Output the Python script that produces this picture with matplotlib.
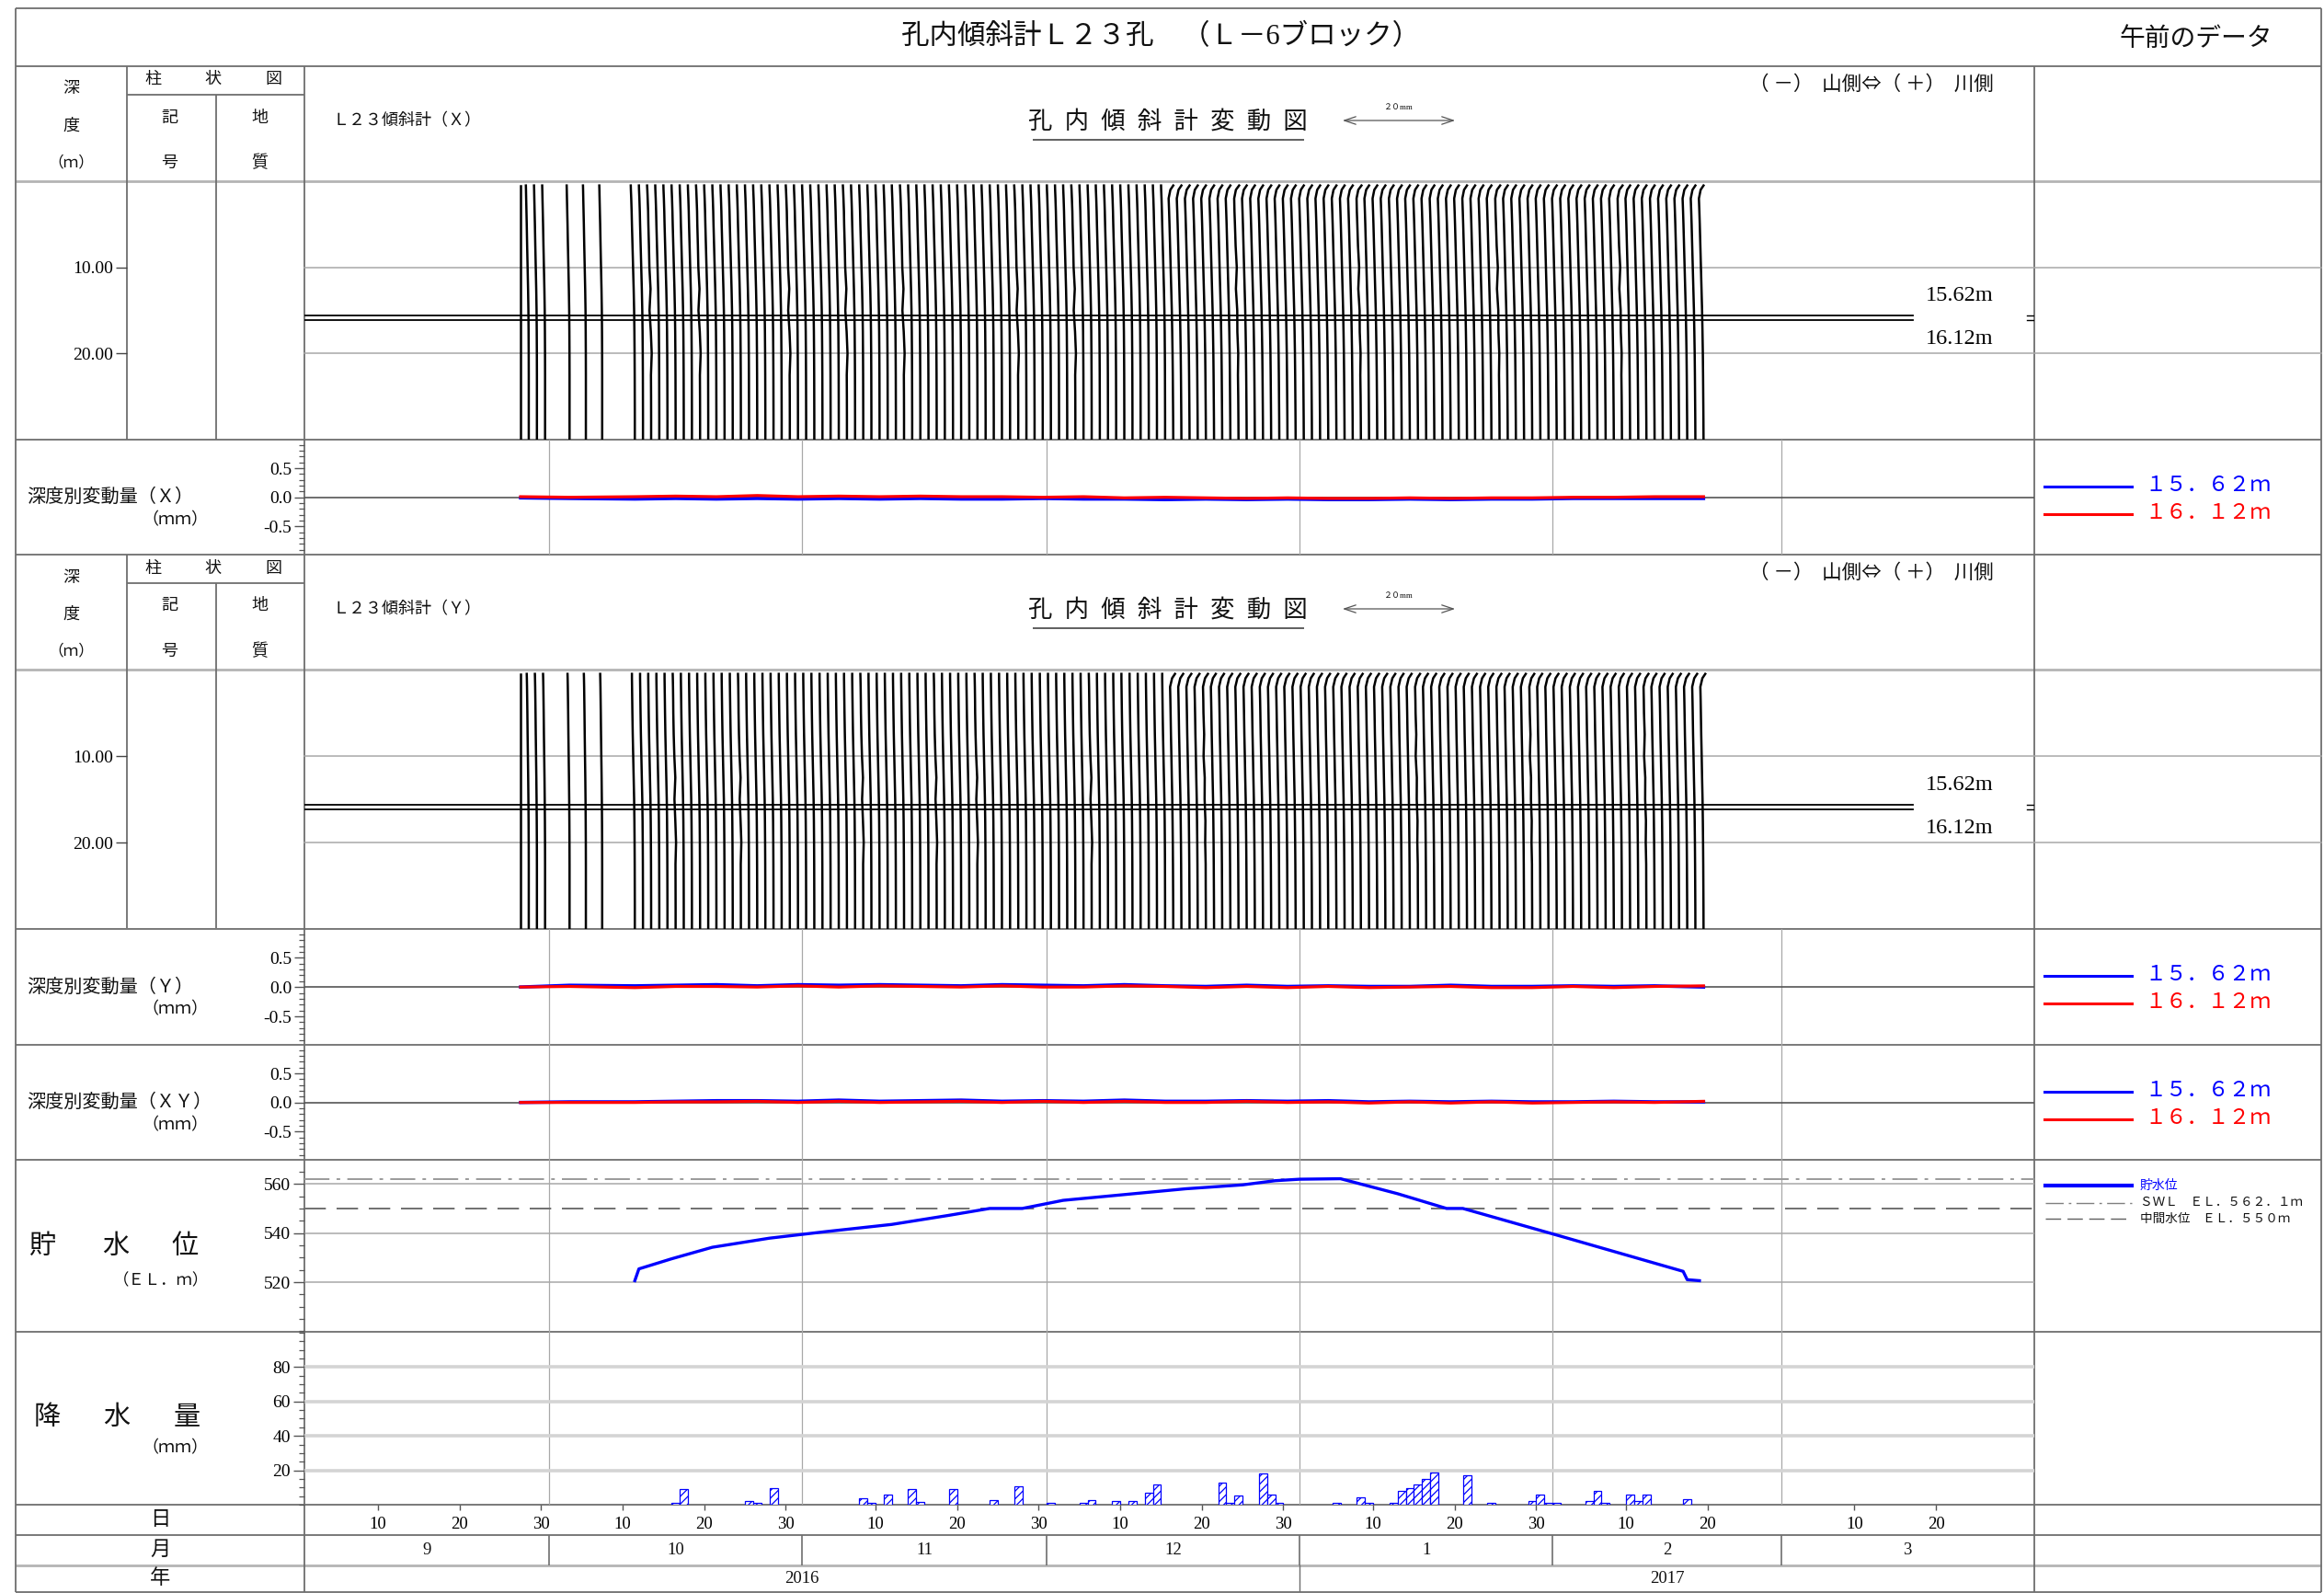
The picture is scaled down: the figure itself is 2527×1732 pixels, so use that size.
import numpy as np
import pandas as pd
import matplotlib
matplotlib.use("Agg")
import matplotlib.pyplot as plt
import matplotlib.dates as mdates
from matplotlib.ticker import MultipleLocator, FixedLocator, FixedFormatter, NullLocator

plt.rcParams['font.family'] = ['Liberation Serif', 'Noto Sans CJK JP']
plt.rcParams['hatch.color'] = 'blue'
plt.rcParams['hatch.linewidth'] = 0.9

# ---------------- data ----------------
time_start, time_end = '2016-09-01', '2017-04-01'
month_starts = ['2016-09-01', '2016-10-01', '2016-11-01', '2016-12-01',
                '2017-01-01', '2017-02-01', '2017-03-01', '2017-04-01']
month_labels = ['9', '10', '11', '12', '1', '2', '3']
year_bounds = ['2016-09-01', '2017-01-01', '2017-04-01']
year_labels = ['2016', '2017']
day_ticks = ['2016-09-10', '2016-09-20', '2016-09-30', '2016-10-10', '2016-10-20', '2016-10-30',
             '2016-11-10', '2016-11-20', '2016-11-30', '2016-12-10', '2016-12-20', '2016-12-30',
             '2017-01-10', '2017-01-20', '2017-01-30', '2017-02-10', '2017-02-20',
             '2017-03-10', '2017-03-20']
day_labels = ['10', '20', '30', '10', '20', '30', '10', '20', '30', '10', '20', '30',
              '10', '20', '30', '10', '20', '10', '20']

# inclinometer measurement dates
incl_dates_early = ['2016-09-27', '2016-09-28', '2016-09-29', '2016-09-30',
                    '2016-10-03', '2016-10-05', '2016-10-07']
incl_daily_from, incl_daily_to = '2016-10-11', '2017-02-19'

depth_pts = [0.5, 1.0, 2.0, 3.5, 5.0, 7.5, 10.0, 12.5, 15.0, 17.5, 20.0, 22.5, 25.0, 27.5, 30.0]
# profile shapes (mm)
prof_x = {
    'A': [0.0, 0.0, 0.0, 0.0, 0.0, 0.0, 0.0, 0.0, 0.0, 0.0, 0.0, 0.0, 0.0, 0.0, 0.0],
    'B': [-0.5, -0.48, -0.45, -0.4, -0.35, -0.28, -0.2, -0.12, -0.06, -0.03, -0.01, 0.0, 0.0, 0.0, 0.0],
    'C': [-0.7, -0.68, -0.62, -0.55, -0.5, -0.4, -0.3, -0.2, -0.12, -0.07, -0.04, -0.02, -0.01, 0.0, 0.0],
    'D': [0.0, -0.5, -0.8, -0.72, -0.65, -0.55, -0.45, -0.35, -0.25, -0.18, -0.12, -0.08, -0.05, -0.02, 0.0],
    'K': [-0.7, -0.66, -0.6, -0.52, -0.48, -0.38, -0.3, -0.1, -0.28, -0.05, 0.1, -0.03, -0.01, 0.0, 0.0],
    'L': [0.1, -0.45, -0.75, -0.7, -0.62, -0.5, -0.3, -0.45, -0.22, -0.2, -0.05, -0.1, -0.05, -0.02, 0.0],
}
periods_x = [('2016-09-27', '2016-09-27', 'A'), ('2016-09-28', '2016-10-07', 'B'),
             ('2016-10-11', '2016-12-15', 'C'), ('2016-12-16', '2017-02-19', 'D')]
kinks_x = {'2016-10-13': 'K', '2016-10-19': 'K', '2016-10-30': 'K', '2016-11-06': 'K',
           '2016-11-13': 'K', '2016-11-27': 'K', '2016-12-04': 'K', '2016-12-24': 'L',
           '2017-01-08': 'L', '2017-01-25': 'L', '2017-02-09': 'L'}

prof_y = {
    'A': [0.0, 0.0, 0.0, 0.0, 0.0, 0.0, 0.0, 0.0, 0.0, 0.0, 0.0, 0.0, 0.0, 0.0, 0.0],
    'B': [-0.35, -0.33, -0.3, -0.27, -0.24, -0.2, -0.15, -0.1, -0.06, -0.03, -0.01, 0.0, 0.0, 0.0, 0.0],
    'C': [-0.5, -0.5, -0.48, -0.45, -0.42, -0.36, -0.28, -0.2, -0.12, -0.07, -0.04, -0.02, -0.01, 0.0, 0.0],
    'D': [0.3, -0.2, -0.55, -0.5, -0.46, -0.4, -0.32, -0.25, -0.17, -0.12, -0.08, -0.05, -0.03, -0.01, 0.0],
    'K': [-0.5, -0.48, -0.45, -0.42, -0.4, -0.33, -0.22, -0.05, -0.2, -0.05, 0.08, -0.02, -0.01, 0.0, 0.0],
    'L': [0.35, -0.15, -0.5, -0.45, -0.42, -0.3, -0.4, -0.2, -0.22, -0.08, -0.12, -0.04, -0.03, -0.01, 0.0],
}
periods_y = periods_x
kinks_y = {'2016-10-16': 'K', '2016-10-24': 'K', '2016-11-08': 'K', '2016-11-17': 'K',
           '2016-11-22': 'K', '2016-12-06': 'K', '2016-12-20': 'L', '2017-01-15': 'L',
           '2017-01-29': 'L', '2017-02-12': 'L'}

# depth-wise variation (mm) at 15.62 m / 16.12 m
dv_dates = ['2016-09-27', '2016-10-03', '2016-10-11', '2016-10-16', '2016-10-21', '2016-10-26',
            '2016-10-31', '2016-11-05', '2016-11-10', '2016-11-15', '2016-11-20', '2016-11-25',
            '2016-11-30', '2016-12-05', '2016-12-10', '2016-12-15', '2016-12-20', '2016-12-25',
            '2016-12-30', '2017-01-04', '2017-01-09', '2017-01-14', '2017-01-19', '2017-01-24',
            '2017-01-29', '2017-02-03', '2017-02-08', '2017-02-13', '2017-02-19']
dvx_1562 = [-0.01, -0.02, -0.03, -0.02, -0.03, -0.02, -0.03, -0.02, -0.03, -0.02, -0.03, -0.03, -0.02, -0.03,
            -0.03, -0.04, -0.03, -0.04, -0.03, -0.04, -0.04, -0.03, -0.04, -0.03, -0.03, -0.02, -0.02, -0.02, -0.02]
dvx_1612 = [0.01, 0.00, 0.01, 0.02, 0.01, 0.03, 0.01, 0.02, 0.01, 0.02, 0.01, 0.01, 0.00, 0.01,
            -0.01, 0.00, -0.01, -0.02, -0.01, -0.02, -0.02, -0.01, -0.02, -0.01, -0.01, 0.00, 0.00, 0.01, 0.01]
dvy_1562 = [0.00, 0.03, 0.02, 0.03, 0.04, 0.02, 0.04, 0.03, 0.04, 0.03, 0.02, 0.04, 0.03, 0.02,
            0.04, 0.02, 0.01, 0.03, 0.01, 0.02, 0.01, 0.01, 0.03, 0.01, 0.01, 0.02, 0.01, 0.02, 0.00]
dvy_1612 = [0.00, 0.01, -0.01, 0.01, 0.01, 0.00, 0.02, 0.00, 0.02, 0.01, 0.00, 0.02, 0.00, 0.00,
            0.02, 0.01, -0.01, 0.01, -0.01, 0.01, -0.01, 0.00, 0.01, -0.01, -0.01, 0.01, -0.01, 0.01, 0.02]
dvxy_1562 = [0.00, 0.01, 0.01, 0.02, 0.03, 0.03, 0.02, 0.04, 0.02, 0.03, 0.04, 0.02, 0.03, 0.02,
             0.04, 0.02, 0.02, 0.03, 0.02, 0.03, 0.01, 0.02, 0.01, 0.02, 0.01, 0.01, 0.02, 0.01, 0.01]
dvxy_1612 = [0.00, 0.00, 0.00, 0.01, 0.01, 0.02, 0.00, 0.02, 0.00, 0.01, 0.02, 0.00, 0.02, 0.00,
             0.02, 0.00, 0.00, 0.02, 0.00, 0.01, -0.01, 0.01, -0.01, 0.01, -0.01, 0.00, 0.01, 0.00, 0.02]

# reservoir water level (EL.m)
wl_dates = ['2016-10-11 12:00', '2016-10-12', '2016-10-16', '2016-10-21', '2016-10-28', '2016-11-04',
            '2016-11-12', '2016-11-19', '2016-11-24', '2016-11-28', '2016-12-03', '2016-12-11',
            '2016-12-18', '2016-12-25', '2016-12-29', '2017-01-01', '2017-01-06', '2017-01-13',
            '2017-01-19', '2017-01-21', '2017-02-02', '2017-02-17', '2017-02-17 12:00', '2017-02-19']
wl_vals = [520.6, 525.4, 529.5, 534.2, 537.9, 540.6, 543.5, 547.2, 550.0, 550.0, 553.3, 555.8,
           558.0, 559.6, 561.3, 561.9, 562.1, 556.0, 550.0, 550.0, 538.7, 524.4, 521.0, 520.6]
swl = 562.1
mid_wl = 550.0

# daily rainfall (mm)
rain_dates = ['2016-10-16', '2016-10-17', '2016-10-25', '2016-10-26', '2016-10-28', '2016-11-08',
              '2016-11-09', '2016-11-11', '2016-11-14', '2016-11-15', '2016-11-19', '2016-11-24',
              '2016-11-27', '2016-12-01', '2016-12-05', '2016-12-06', '2016-12-09', '2016-12-11',
              '2016-12-13', '2016-12-14', '2016-12-22', '2016-12-23', '2016-12-24', '2016-12-27',
              '2016-12-28', '2016-12-29', '2017-01-05', '2017-01-08', '2017-01-09', '2017-01-12',
              '2017-01-13', '2017-01-14', '2017-01-15', '2017-01-16', '2017-01-17', '2017-01-21',
              '2017-01-24', '2017-01-29', '2017-01-30', '2017-01-31', '2017-02-01', '2017-02-05',
              '2017-02-06', '2017-02-07', '2017-02-10', '2017-02-11', '2017-02-12', '2017-02-17']
rain_vals = [1.0, 8.9, 2.0, 1.0, 9.8, 4.0, 1.0, 5.7, 8.9, 1.8, 8.9, 2.9, 10.9, 1.0, 1.0, 2.9, 2.0, 2.0,
             6.8, 11.6, 12.7, 1.0, 5.2, 18.0, 5.7, 1.0, 1.0, 4.1, 1.0, 1.0, 7.9, 9.6, 11.8, 14.8,
             18.9, 17.0, 1.0, 2.0, 5.7, 1.0, 1.0, 2.0, 7.9, 1.0, 5.7, 2.0, 5.7, 3.0]

# ---------------- layout (pixels) ----------------
W, H = 2527, 1732
fig = plt.figure(figsize=(W / 100, H / 100), dpi=100)


def box(x0, y0, x1, y1):
    return [x0 / W, 1 - y1 / H, (x1 - x0) / W, (y1 - y0) / H]


L, C1, C2, P, R, RR = 17, 138, 235, 331, 2211.6, 2524
DARK, LIGHT, GRID = '#6e6e6e', '#b4b4b4', '#a8a8a8'
MM_TO_DAYS = 0.7085  # 20 mm scale bar = 14.17 days on the time axis
NUM = 14

t0, t1 = mdates.datestr2num([time_start, time_end])
mnums = mdates.datestr2num(month_starts)
inner_months = mnums[1:-1]

bg = fig.add_axes([0, 0, 1, 1], zorder=0)
bg.set_xlim(0, W)
bg.set_ylim(H, 0)
bg.axis('off')


def hline(y, x0=L, x1=RR, c=DARK, lw=1.3):
    bg.plot([x0, x1], [y, y], color=c, lw=lw, solid_capstyle='butt')


def vline(x, y0, y1, c=DARK, lw=1.3):
    bg.plot([x, x], [y0, y1], color=c, lw=lw, solid_capstyle='butt')


def txt(x, y, s, size=13, ha='center', va='center', color='#111111', **kw):
    bg.text(x, y, s, fontsize=size, ha=ha, va=va, color=color, **kw)


# outer frame and row separators
for y in [9, 72, 478, 603, 1010, 1136, 1261, 1448, 1636, 1669, 1731]:
    hline(y)
for y in [197, 728, 1702]:
    hline(y, c=LIGHT, lw=2.0)
vline(L, 9, 1731)
vline(RR, 9, 1731)
vline(R, 72, 1731)
vline(P, 72, 1731)

# title row
txt(1262, 40, '孔内傾斜計Ｌ２３孔　（Ｌ－6ブロック）', size=22)
txt(2388, 43, '午前のデータ', size=20)


def section_header(oy, axis_name):
    vline(C1, 72 + oy, 478 + oy)
    vline(C2, 103 + oy, 478 + oy)
    hline(103 + oy, C1, P)
    txt(77, 97 + oy, '深', 13)
    txt(77, 137 + oy, '度', 13)
    txt(77, 177 + oy, '（ｍ）', 12)
    for xx, ch in zip([166, 231, 297], ['柱', '状', '図']):
        txt(xx, 87 + oy, ch, 13)
    txt(184, 128 + oy, '記', 13)
    txt(184, 177 + oy, '号', 13)
    txt(282, 128 + oy, '地', 13)
    txt(282, 177 + oy, '質', 13)
    txt(362, 132 + oy, 'Ｌ２３傾斜計（%s）' % axis_name, 13, ha='left')
    txt(1270, 132 + oy, '孔  内  傾  斜  計  変  動  図', 19)
    hline(151.5 + oy, 1123, 1418, c='#444444', lw=1.2)
    bg.annotate('', xy=(1457, 131 + oy), xytext=(1585, 131 + oy),
                arrowprops=dict(arrowstyle='<->,head_length=0.9,head_width=0.3', color='#555555', lw=0.9))
    txt(1521, 117 + oy, '２０mm', 6.5)
    txt(2168, 92 + oy, '（ －）  山側⇔（ ＋）  川側', 15.5, ha='right',
        family=['Noto Sans CJK JP', 'DejaVu Sans'])


def incl_panel(y0, y1, prof, periods, kinks):
    ax = fig.add_axes(box(P, y0, R, y1), zorder=2)
    ax.set_facecolor('none')
    ax.set_xlim(t0, t1)
    ax.set_ylim(30, 0)
    for s in ax.spines.values():
        s.set_visible(False)
    ax.set_xticks([])
    ax.set_yticks([])
    ext = (RR - P) / (R - P)
    for d in [10, 20]:
        ax.axhline(d, xmin=0, xmax=ext, color=GRID, lw=1.1, clip_on=False, zorder=1)
    kink_map = {round(float(mdates.datestr2num(k))): v for k, v in kinks.items()}
    pnums = [(mdates.datestr2num(s), mdates.datestr2num(e), k) for s, e, k in periods]
    dates = list(mdates.datestr2num(incl_dates_early)) + list(
        mdates.date2num(pd.date_range(incl_daily_from, incl_daily_to).to_pydatetime()))
    for dn in dates:
        key = None
        for s, e, k in pnums:
            if s <= dn <= e:
                key = k
        key = kink_map.get(round(float(dn)), key)
        xs = dn + 0.5 + np.array(prof[key]) * MM_TO_DAYS
        ax.plot(xs, depth_pts, color='black', lw=1.8, zorder=3)
    line_end = (2080 - P) / (R - P)
    for dep in [15.62, 16.12]:
        ax.axhline(dep, xmin=0, xmax=line_end, color='black', lw=1.3, zorder=4)
        ax.axhline(dep, xmin=(2204 - P) / (R - P), xmax=1.0, color='black', lw=1.0, zorder=4)
    ax.text((2094 - P) / (R - P), 13.3, '15.62m', transform=ax.get_yaxis_transform(),
            fontsize=17.5, ha='left', va='center')
    ax.text((2094 - P) / (R - P), 18.3, '16.12m', transform=ax.get_yaxis_transform(),
            fontsize=17.5, ha='left', va='center')
    # depth scale in the first column
    axd = fig.add_axes(box(C1, y0, P, y1), zorder=2)
    axd.set_facecolor('none')
    axd.set_ylim(30, 0)
    for s in axd.spines.values():
        s.set_visible(False)
    axd.set_xticks([])
    axd.yaxis.set_major_locator(FixedLocator([10, 20]))
    axd.yaxis.set_major_formatter(FixedFormatter(['10.00', '20.00']))
    axd.tick_params(axis='y', direction='out', length=9, width=1.0, color='#444444',
                    labelsize=NUM, pad=2)
    return ax


def month_grid(ax):
    for m in inner_months:
        ax.axvline(m, color=GRID, lw=0.9, zorder=1)


def dv_panel(y0, y1, label, v1562, v1612):
    ax = fig.add_axes(box(P, y0, R, y1), zorder=2)
    ax.set_facecolor('none')
    ax.set_xlim(t0, t1)
    ax.set_ylim(-0.985, 0.99)
    for s in ax.spines.values():
        s.set_visible(False)
    ax.set_xticks([])
    ax.yaxis.set_major_locator(FixedLocator([-0.5, 0.0, 0.5]))
    ax.yaxis.set_major_formatter(FixedFormatter(['-0.5', '0.0', '0.5']))
    ax.yaxis.set_minor_locator(MultipleLocator(0.1))
    ax.tick_params(axis='y', which='major', direction='out', length=8, width=1.0,
                   color='#555555', labelsize=NUM, pad=2)
    ax.tick_params(axis='y', which='minor', direction='out', length=4.5, width=0.9, color='#555555')
    month_grid(ax)
    ax.axhline(0, color='#555555', lw=1.2, zorder=1)
    dn = mdates.datestr2num(dv_dates) + 0.5
    ax.plot(dn, v1562, color='blue', lw=2.6, zorder=3)
    ax.plot(dn, v1612, color='red', lw=2.3, zorder=4)
    txt(29, (y0 + y1) / 2 + 1, '深度別変動量（%s）' % label, 14.5, ha='left')
    txt(226, (y0 + y1) / 2 + 25, '（ｍｍ）', 13, ha='right')
    # legend in right column
    bg.plot([2223, 2318], [y0 + 50.7] * 2, color='blue', lw=2.2)
    bg.plot([2223, 2318], [y0 + 80.7] * 2, color='red', lw=2.2)
    txt(2332, y0 + 50.7, '１５．６２ｍ', 16.5, ha='left', color='blue')
    txt(2332, y0 + 80.7, '１６．１２ｍ', 16.5, ha='left', color='red')
    return ax


# ---- X section ----
section_header(0, 'Ｘ')
incl_panel(197, 478, prof_x, periods_x, kinks_x)
dv_panel(478, 603, 'Ｘ', dvx_1562, dvx_1612)

# ---- Y section ----
section_header(531, 'Ｙ')
incl_panel(728, 1010, prof_y, periods_y, kinks_y)
dv_panel(1010, 1136, 'Ｙ', dvy_1562, dvy_1612)
dv_panel(1136, 1261, 'ＸＹ', dvxy_1562, dvxy_1612)

# ---- water level ----
axw = fig.add_axes(box(P, 1261, R, 1448), zorder=2)
axw.set_facecolor('none')
axw.set_xlim(t0, t1)
axw.set_ylim(499.8, 569.8)
for s in axw.spines.values():
    s.set_visible(False)
axw.set_xticks([])
axw.yaxis.set_major_locator(FixedLocator([520, 540, 560]))
axw.yaxis.set_minor_locator(MultipleLocator(5))
axw.tick_params(axis='y', which='major', direction='out', length=9, width=1.0,
                color='#555555', labelsize=NUM, pad=2)
axw.tick_params(axis='y', which='minor', direction='out', length=4.5, width=0.9, color='#555555')
month_grid(axw)
for v in [520, 540, 560]:
    axw.axhline(v, color=GRID, lw=1.1, zorder=1)
axw.axhline(swl, color='#9a9a9a', lw=1.4, ls=(0, (14, 4, 2, 4)), zorder=2)
axw.axhline(mid_wl, color='#707070', lw=1.4, ls=(0, (12, 6)), zorder=2)
axw.plot(mdates.datestr2num(wl_dates), wl_vals, color='blue', lw=2.4, zorder=3)
for xx, ch in zip([46, 126, 201], ['貯', '水', '位']):
    txt(xx, 1356, ch, 21)
txt(227, 1393, '（ＥＬ．ｍ）', 12.5, ha='right')
bg.plot([2224, 2318], [1289.3] * 2, color='blue', lw=3)
txt(2327, 1289.3, '貯水位', 10, ha='left', color='blue')
bg.plot([2224, 2318], [1307.7] * 2, color='#808080', lw=1.0, ls=(0, (14, 4, 2, 4)))
txt(2327, 1307.7, 'ＳＷＬ　ＥＬ．５６２．１ｍ', 9.8, ha='left')
bg.plot([2224, 2318], [1325] * 2, color='#606060', lw=1.0, ls=(0, (12, 5)))
txt(2327, 1325, '中間水位　ＥＬ．５５０ｍ', 9.8, ha='left')

# ---- rainfall ----
axr = fig.add_axes(box(P, 1448, R, 1636), zorder=2)
axr.set_facecolor('none')
axr.set_xlim(t0, t1)
axr.set_ylim(0, 100.5)
for s in axr.spines.values():
    s.set_visible(False)
axr.yaxis.set_major_locator(FixedLocator([20, 40, 60, 80]))
axr.yaxis.set_minor_locator(MultipleLocator(5))
axr.tick_params(axis='y', which='major', direction='out', length=9, width=1.0,
                color='#555555', labelsize=NUM, pad=2)
axr.tick_params(axis='y', which='minor', direction='out', length=4.5, width=0.9, color='#555555')
month_grid(axr)
for v in [20, 40, 60, 80]:
    axr.axhline(v, color='#d4d4d4', lw=2.6, zorder=1)
axr.bar(mdates.datestr2num(rain_dates), rain_vals, width=1.0, align='edge',
        facecolor='white', edgecolor='blue', hatch='////', lw=0.9, zorder=3)
axr.xaxis.set_major_locator(FixedLocator(mdates.datestr2num(day_ticks)))
axr.xaxis.set_major_formatter(FixedFormatter(day_labels))
axr.xaxis.set_minor_locator(NullLocator())
axr.tick_params(axis='x', direction='out', length=4.5, width=1.0, color='#555555',
                labelsize=13.5, pad=5)
for xx, ch in zip([51, 127, 203], ['降', '水', '量']):
    txt(xx, 1542, ch, 21)
txt(226, 1575, '（ｍｍ）', 13, ha='right')

# ---- day / month / year rows ----
txt(174, 1653, '日', 16)
txt(174, 1686, '月', 16)
txt(174, 1717, '年', 16)

axm = fig.add_axes(box(P, 1669, R, 1702), zorder=2)
axm.set_xlim(t0, t1)
axm.set_ylim(0, 1)
axm.axis('off')
for m in inner_months:
    axm.axvline(m, color=DARK, lw=1.2)
for a, b, lab in zip(mnums[:-1], mnums[1:], month_labels):
    axm.text((a + b) / 2, 0.5, lab, fontsize=13.5, ha='center', va='center', color='#111111')

axy = fig.add_axes(box(P, 1702, R, 1731), zorder=2)
axy.set_xlim(t0, t1)
axy.set_ylim(0, 1)
axy.axis('off')
ynums = mdates.datestr2num(year_bounds)
axy.axvline(ynums[1], color=DARK, lw=1.0)
for a, b, lab in zip(ynums[:-1], ynums[1:], year_labels):
    axy.text((a + b) / 2, 0.5, lab, fontsize=13.5, ha='center', va='center', color='#111111')

fig.savefig('out.png', dpi=100)
